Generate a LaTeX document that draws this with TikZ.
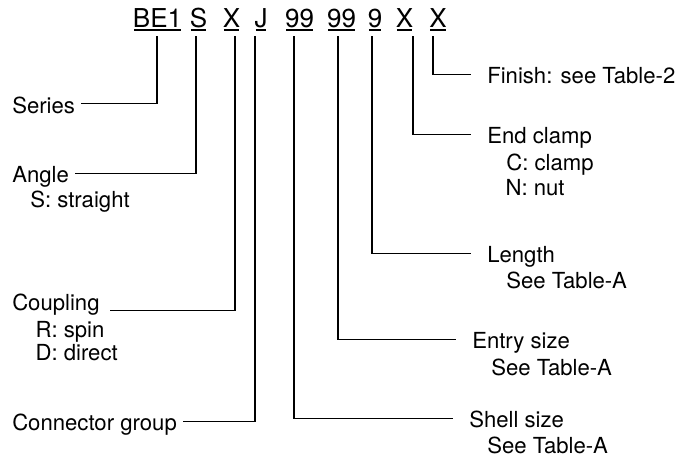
\documentclass[tikz,border=0pt]{standalone}
\usepackage{fontspec}
\setmainfont{TeX Gyre Heros}
\newcommand\codefont{\fontsize{19.5}{22}\selectfont}
\newcommand\lblfont{\fontsize{16.6}{19}\selectfont}
\tikzset{
  code/.style={font=\codefont, anchor=base, inner xsep=0pt, inner ysep=1.9pt, text depth=0pt},
  uline/.style={line width=1.3pt, shorten <=1pt, shorten >=1pt},
  leader/.style={line width=0.9pt},
  lbl/.style={font=\lblfont, anchor=base west, inner ysep=0pt, text height=14pt, text depth=0pt},
  lbl left/.style={lbl, inner xsep=4.5pt},
  lbl right/.style={lbl, inner xsep=12pt},
  note/.style={font=\lblfont, anchor=base west, inner sep=0pt}
}
\begin{document}
\begin{tikzpicture}[x=0.75pt,y=-0.75pt]
\useasboundingbox (0,0) rectangle (691,462);
\node[code] (c1) at (157.5,27) {BE1};
\node[code] (c2) at (198.5,27) {S};
\node[code] (c3) at (231.5,27) {X};
\node[code] (c4) at (261,27) {J};
\node[code] (c5) at (299.5,27) {99};
\node[code] (c6) at (341.5,27) {99};
\node[code] (c7) at (375,27) {9};
\node[code] (c8) at (404.5,27) {X};
\node[code] (c9) at (438,27) {X};
\foreach \i in {1,...,9}
  \draw[uline] (c\i.south west) -- (c\i.south east);

\node[lbl left] (series) at (6,113) {Series};
\node[lbl left] (angle) at (6,182.5) {Angle};
\node[note] (angle s) at (30,207.5) {S: straight};
\node[lbl left] (coupling) at (6,310.5) {Coupling};
\node[note] (coupling r) at (35.3,337.5) {R: spin};
\node[note] (coupling d) at (35.3,360.5) {D: direct};
\node[lbl left] (group) at (6,430.5) {Connector group};

\node[lbl right] (finish) at (471,83.5) {Finish: see Table-2};
\node[lbl right] (clamp) at (471,143.5) {End clamp};
\node[note] (clamp c) at (506,170.5) {C: clamp};
\node[note] (clamp n) at (505.3,195.5) {N: nut};
\node[lbl right] (length) at (471,262.5) {Length};
\node[note] (length t) at (506,288.5) {See Table-A};
\node[lbl right] (entry) at (456,348.5) {Entry size};
\node[note] (entry t) at (491,375.5) {See Table-A};
\node[lbl right] (shell) at (453,427.5) {Shell size};
\node[note] (shell t) at (487,453.5) {See Table-A};

\foreach \i/\dx/\lab in {1/-0.5/series, 2/-2.5/angle, 4/-6/group, 5/-5.5/shell,
    6/-3.5/entry, 7/-3/length, 8/8.5/clamp, 9/-5/finish}
  \draw[leader] ([xshift=\dx*0.75pt, yshift=-5pt]c\i.south) |- (\lab);
\draw[leader] ([xshift=3.5*0.75pt, yshift=-5pt]c3.south) |- ([xshift=3pt]coupling.base east);
\end{tikzpicture}
\end{document}
